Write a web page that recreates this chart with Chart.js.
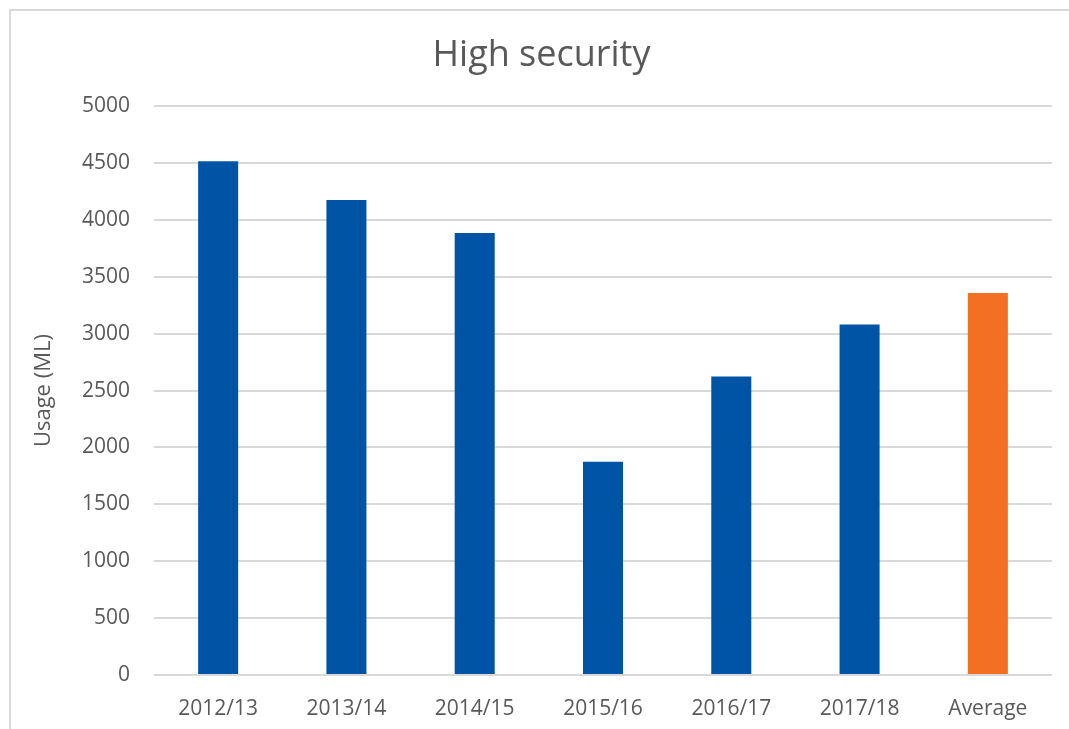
<!DOCTYPE html>
<html>
<head>
<meta charset="utf-8">
<title>High security</title>
<script src="https://cdn.jsdelivr.net/npm/chart.js@4.4.1/dist/chart.umd.min.js"></script>
<style>
  html, body { margin: 0; padding: 0; background: #fff; overflow: hidden; }
  #frame { position: absolute; left: 9px; top: 9px; width: 1100px; height: 800px; border: 2px solid #d9d9d9; }
  #wrap { position: absolute; left: 0; top: 0; width: 1069px; height: 729px; }
</style>
</head>
<body>
<div id="frame"></div>
<div id="wrap"><canvas id="chart" width="1069" height="729"></canvas></div>
<script>
// usage per financial year plus the average of the six years
var years = ['2012/13', '2013/14', '2014/15', '2015/16', '2016/17', '2017/18', 'Average']
var usage = [4515, 4175, 3885, 1875, 2625, 3080, 3359]
var barColours = ['#0054a6', '#0054a6', '#0054a6', '#0054a6', '#0054a6', '#0054a6', '#f37022']

var font = "'Open Sans', 'Liberation Sans', sans-serif"
var textColour = '#595959'

new Chart(document.getElementById('chart'), {
  type: 'bar',
  data: {
    labels: years,
    datasets: [{
      label: 'Usage (ML)',
      data: usage,
      backgroundColor: barColours,
      borderWidth: 0,
      categoryPercentage: 1,
      barPercentage: 0.312
    }]
  },
  options: {
    responsive: false,
    animation: false,
    layout: { padding: { left: 31, right: 17, top: 0, bottom: 0 } },
    plugins: {
      legend: { display: false },
      tooltip: { enabled: false },
      title: {
        display: true,
        text: 'High security',
        color: textColour,
        font: { family: font, size: 36, weight: 'normal' },
        padding: { top: 34, bottom: 29 }
      }
    },
    scales: {
      x: {
        grid: { display: false },
        border: { display: false },
        ticks: { color: textColour, font: { family: font, size: 21 }, padding: 13, maxRotation: 0 },
        afterFit: function (scale) { scale.height = 54 }
      },
      y: {
        min: 0,
        max: 5000,
        ticks: {
          stepSize: 500,
          color: textColour,
          font: { family: font, size: 21 },
          padding: 24,
          callback: function (v) { return String(v) }
        },
        grid: { color: '#d9d9d9', lineWidth: 2, drawTicks: false },
        border: { display: false },
        title: {
          display: true,
          text: 'Usage (ML)',
          color: textColour,
          font: { family: font, size: 22 },
          padding: { top: 0, bottom: 0 }
        },
        afterFit: function (scale) { scale.width = 123 }
      }
    }
  }
})
</script>
</body>
</html>
